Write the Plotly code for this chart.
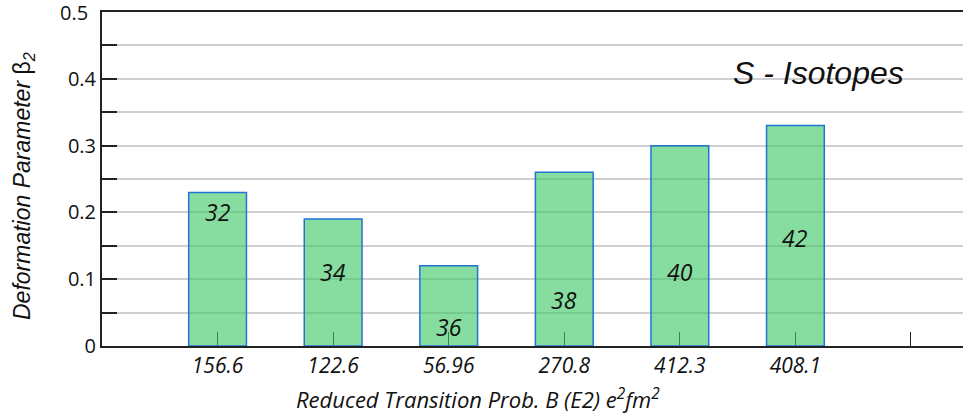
import plotly.graph_objects as go

categories = ["156.6", "122.6", "56.96", "270.8", "412.3", "408.1", ""]
beta2 = [0.23, 0.19, 0.12, 0.26, 0.30, 0.33]
mass_numbers = ["32", "34", "36", "38", "40", "42"]
label_y = [0.20, 0.111, 0.028, 0.069, 0.111, 0.162]

xpos = list(range(len(beta2)))
fig = go.Figure()
fig.add_trace(go.Bar(
    x=xpos, y=beta2, width=0.5,
    marker=dict(color="rgba(60,200,100,0.62)", line=dict(color="#1f74d6", width=1.5)),
    showlegend=False, hoverinfo="skip",
))
for xi, yi, t in zip(xpos, label_y, mass_numbers):
    fig.add_annotation(x=xi, y=yi, text=t, showarrow=False, xanchor="center", yanchor="middle",
                       font=dict(family="Open Sans", size=23, color="#111", style="italic"))

fig.add_annotation(xref="paper", yref="paper", x=0.832, y=0.817, text="S - Isotopes",
                   showarrow=False, xanchor="center", yanchor="middle",
                   font=dict(family="Liberation Sans", size=32, color="#111", style="italic"))
fig.add_annotation(xref="paper", yref="paper", x=0.437, y=-0.156,
                   text="Reduced Transition Prob. B (E2) e<sup>2</sup>fm<sup>2</sup>",
                   showarrow=False, xanchor="center", yanchor="middle",
                   font=dict(family="Open Sans", size=22, color="#111", style="italic"))
fig.add_annotation(xref="paper", yref="paper", x=-0.091, y=0.478, textangle=-90,
                   text="Deformation Parameter <span style='font-style:normal'>β</span><sub>2</sub>",
                   showarrow=False, xanchor="center", yanchor="middle",
                   font=dict(family="Liberation Sans", size=23, color="#111", style="italic"))

yt = [round(i * 0.05, 2) for i in range(11)]
ytext = [("0" if v == 0 else f"{v:.1f}") if i % 2 == 0 else "" for i, v in enumerate(yt)]
# top label drawn as annotation (plotly hides the label at the range edge)
fig.add_annotation(xref="paper", yref="y", x=0, y=yt[-1], text=ytext[-1], showarrow=False,
                   xanchor="right", yanchor="middle", xshift=-12,
                   font=dict(family="Open Sans", size=20, color="#111"))

fig.update_layout(
    width=963, height=418,
    margin=dict(l=102, r=0, t=12, b=72),
    plot_bgcolor="white", paper_bgcolor="white",
    xaxis=dict(range=[-1, 6.45], tickvals=list(range(len(categories))), ticktext=categories,
               ticks="inside", ticklen=14, tickwidth=1.3, tickcolor="#222",
               showline=True, linecolor="#222", linewidth=1.5, mirror=True,
               showgrid=False, zeroline=False, layer="below traces",
               tickfont=dict(family="Open Sans", size=21, color="#111", style="italic")),
    yaxis=dict(range=[0, 0.5001], tickvals=yt, ticktext=ytext,
               ticks="inside", ticklen=15, tickwidth=1.5, tickcolor="#222",
               showline=True, linecolor="#222", linewidth=2,
               showgrid=True, gridcolor="#d0d0d0", gridwidth=1.5, zeroline=False,
               tickfont=dict(family="Open Sans", size=20, color="#111")),
)
fig.write_html("out.html", config={"displayModeBar": False},
               post_script="document.body.style.margin='0';")
